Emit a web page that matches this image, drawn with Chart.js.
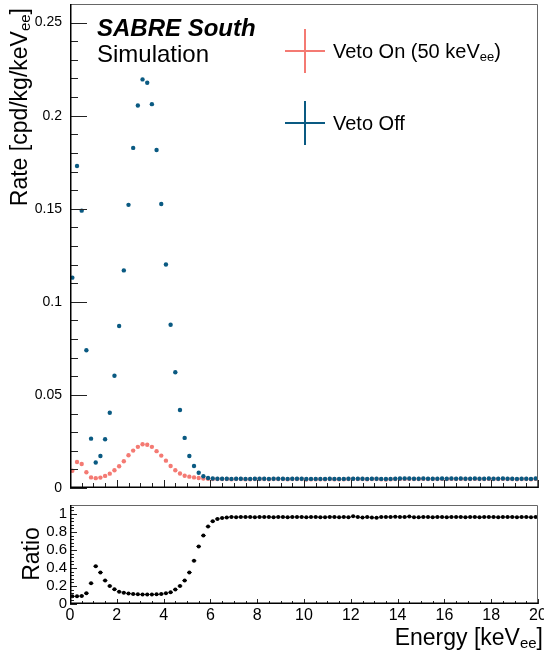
<!DOCTYPE html>
<html>
<head>
<meta charset="utf-8">
<script src="https://cdn.jsdelivr.net/npm/chart.js@4/dist/chart.umd.min.js"></script>
<style>
body{margin:0;background:#fff;}
#topBox{position:absolute;left:0;top:0;width:544px;height:495px;}
#botBox{position:absolute;left:0;top:495px;width:544px;height:160px;}
</style>
</head>
<body>
<div id="topBox"><canvas id="rateCanvas"></canvas></div>
<div id="botBox"><canvas id="ratioCanvas"></canvas></div>
<script>
// bin centres, keVee (0.2 keV bins)
var energy=[0.1,0.3,0.5,0.7,0.9,1.1,1.3,1.5,1.7,1.9,
	2.1,2.3,2.5,2.7,2.9,3.1,3.3,3.5,3.7,3.9,
	4.1,4.3,4.5,4.7,4.9,5.1,5.3,5.5,5.7,5.9,
	6.1,6.3,6.5,6.7,6.9,7.1,7.3,7.5,7.7,7.9,
	8.1,8.3,8.5,8.7,8.9,9.1,9.3,9.5,9.7,9.9,
	10.1,10.3,10.5,10.7,10.9,11.1,11.3,11.5,11.7,11.9,
	12.1,12.3,12.5,12.7,12.9,13.1,13.3,13.5,13.7,13.9,
	14.1,14.3,14.5,14.7,14.9,15.1,15.3,15.5,15.7,15.9,
	16.1,16.3,16.5,16.7,16.9,17.1,17.3,17.5,17.7,17.9,
	18.1,18.3,18.5,18.7,18.9,19.1,19.3,19.5,19.7,19.9];

// rate, cpd/kg/keVee
var vetoOff=[0.113,0.173,0.149,0.074,0.0265,0.0137,0.0172,0.0262,0.0404,0.0603,
	0.0870,0.1169,0.1521,0.1827,0.2055,0.2195,0.2177,0.2062,0.1816,0.1526,
	0.1201,0.0877,0.0622,0.0419,0.0269,0.0172,0.0118,0.0082,0.0063,0.0054,
	0.0051,0.0050,0.0050,0.0050,0.0049,0.0050,0.0050,0.0049,0.0049,0.0050,
	0.0050,0.0050,0.0049,0.0050,0.0050,0.0050,0.0049,0.0050,0.0050,0.0050,
	0.0048,0.0049,0.0049,0.0049,0.0049,0.0050,0.0049,0.0049,0.0049,0.0050,
	0.0050,0.0050,0.0050,0.0049,0.0050,0.0050,0.0049,0.0048,0.0049,0.0050,
	0.0051,0.0051,0.0051,0.0050,0.0050,0.0051,0.0050,0.0050,0.0050,0.0051,
	0.0050,0.0051,0.0050,0.0051,0.0050,0.0050,0.0051,0.0050,0.0050,0.0051,
	0.0050,0.0050,0.0051,0.0050,0.0050,0.0049,0.0050,0.0050,0.0049,0.0051];

var vetoOn=[0.0093,0.0140,0.0129,0.0085,0.0057,0.0053,0.0056,0.0065,0.0077,0.0095,
	0.0117,0.0144,0.0176,0.0201,0.0221,0.0235,0.0232,0.0221,0.0198,0.0174,
	0.0147,0.0118,0.0095,0.0078,0.0066,0.0061,0.0057,0.0054,0.0051,0.0050,
	0.0048,0.0048,0.0048,0.0048,0.0047,0.0048,0.0048,0.0047,0.0047,0.0048,
	0.0048,0.0048,0.0047,0.0048,0.0048,0.0048,0.0047,0.0048,0.0048,0.0048,
	0.0046,0.0047,0.0047,0.0047,0.0047,0.0048,0.0047,0.0047,0.0047,0.0048,
	0.0049,0.0048,0.0048,0.0047,0.0048,0.0048,0.0047,0.0046,0.0047,0.0048,
	0.0049,0.0049,0.0049,0.0048,0.0048,0.0049,0.0048,0.0048,0.0048,0.0049,
	0.0048,0.0049,0.0048,0.0049,0.0048,0.0048,0.0049,0.0048,0.0048,0.0049,
	0.0048,0.0048,0.0049,0.0048,0.0048,0.0047,0.0048,0.0048,0.0047,0.0049];

// veto on / veto off
var ratio=[0.085,0.085,0.09,0.12,0.23,0.42,0.35,0.26,0.20,0.163,
	0.137,0.125,0.116,0.11,0.107,0.106,0.106,0.106,0.107,0.11,
	0.12,0.13,0.16,0.20,0.26,0.35,0.48,0.64,0.76,0.86,
	0.92,0.945,0.955,0.962,0.968,0.965,0.968,0.966,0.967,0.964,
	0.967,0.966,0.968,0.965,0.967,0.966,0.964,0.967,0.966,0.968,
	0.963,0.966,0.967,0.965,0.964,0.968,0.966,0.963,0.967,0.965,
	0.975,0.966,0.961,0.967,0.960,0.958,0.966,0.968,0.967,0.970,
	0.968,0.966,0.972,0.965,0.963,0.967,0.966,0.965,0.967,0.966,
	0.965,0.967,0.966,0.968,0.965,0.966,0.967,0.965,0.966,0.967,
	0.966,0.965,0.967,0.966,0.968,0.965,0.966,0.967,0.963,0.968];

var ratioErr=[0.004,0.004,0.004,0.004,0.004,0.004,0.004,0.004,0.004,0.004,
	0.004,0.004,0.004,0.004,0.004,0.004,0.004,0.004,0.004,0.004,
	0.004,0.004,0.004,0.004,0.004,0.006,0.008,0.010,0.012,0.012,
	0.012,0.012,0.012,0.012,0.012,0.012,0.012,0.012,0.012,0.012,
	0.012,0.012,0.012,0.012,0.012,0.012,0.012,0.012,0.012,0.012,
	0.012,0.012,0.012,0.012,0.012,0.012,0.012,0.012,0.012,0.012,
	0.012,0.012,0.012,0.012,0.012,0.012,0.012,0.012,0.012,0.012,
	0.012,0.012,0.012,0.012,0.012,0.012,0.012,0.012,0.012,0.012,
	0.012,0.012,0.012,0.012,0.012,0.012,0.012,0.012,0.012,0.012,
	0.012,0.012,0.012,0.012,0.012,0.012,0.012,0.012,0.012,0.012];

var binHalf=0.1;
var rateTicks=[0,0.05,0.1,0.15,0.2,0.25];
var ratioTicks=[0,0.2,0.4,0.6,0.8,1];
var energyTicks=[0,2,4,6,8,10,12,14,16,18,20];

var blue='#0a5a82';
var red='#f47a73';
var fontName="'Liberation Sans', Arial, sans-serif";

Chart.defaults.font.family=fontName;
Chart.defaults.color='#000';

function points(ys){
	var out=[];
	for(var i=0; i<energy.length; i++){
		out.push({x:energy[i], y:ys[i]});
	}
	return out;
}

// text with subscript parts, returns total width
function richWidth(ctx, parts, size){
	var w=0;
	for(var i=0; i<parts.length; i++){
		ctx.font=(parts[i].sub ? Math.round(size*0.65) : size)+'px '+fontName;
		w+=ctx.measureText(parts[i].t).width;
	}
	return w;
}
function drawRich(ctx, parts, x, y, size){
	var cx=x;
	for(var i=0; i<parts.length; i++){
		var p=parts[i];
		ctx.font=(p.sub ? Math.round(size*0.65) : size)+'px '+fontName;
		ctx.fillText(p.t, cx, p.sub ? y+size*0.15 : y);
		cx+=ctx.measureText(p.t).width;
	}
}

// ROOT style ticks on the inside of the frame
function innerTicks(chart, cfg){
	var ctx=chart.ctx;
	var a=chart.chartArea;
	var xs=chart.scales.x, ys=chart.scales.y;
	ctx.save();
	ctx.strokeStyle='#222';
	ctx.lineWidth=1;
	ctx.beginPath();
	var v, px;
	for(v=0; v<=ys.max+1e-9; v+=cfg.yMinor){
		px=Math.round(ys.getPixelForValue(v))+0.5;
		var major=Math.abs(v/cfg.yMajor-Math.round(v/cfg.yMajor))<1e-6;
		ctx.moveTo(a.left, px);
		ctx.lineTo(a.left+(major ? cfg.yLenMajor : cfg.yLenMinor), px);
	}
	for(v=0; v<=xs.max+1e-9; v+=cfg.xMinor){
		px=Math.round(xs.getPixelForValue(v))+0.5;
		var majorX=Math.abs(v/cfg.xMajor-Math.round(v/cfg.xMajor))<1e-6;
		ctx.moveTo(px, a.bottom);
		ctx.lineTo(px, a.bottom-(majorX ? cfg.xLenMajor : cfg.xLenMinor));
	}
	ctx.stroke();
	// frame
	ctx.strokeStyle='#666';
	ctx.beginPath();
	ctx.moveTo(a.left, a.top+0.5);
	ctx.lineTo(a.right-0.5, a.top+0.5);
	ctx.lineTo(a.right-0.5, a.bottom);
	ctx.stroke();
	ctx.strokeStyle='#000';
	ctx.lineWidth=1.5;
	ctx.beginPath();
	ctx.moveTo(a.left+0.75, a.top);
	ctx.lineTo(a.left+0.75, a.bottom-0.75);
	ctx.lineTo(a.right, a.bottom-0.75);
	ctx.stroke();
	ctx.restore();
}

var ratePlugin={
	id:'ratePlugin',
	afterDraw:function(chart){
		var ctx=chart.ctx;
		innerTicks(chart, {yMajor:0.05, yMinor:0.01, yLenMajor:17, yLenMinor:8,
			xMajor:2, xMinor:0.5, xLenMajor:8, xLenMinor:5});
		ctx.save();
		ctx.fillStyle='#000';
		ctx.textBaseline='alphabetic';
		ctx.textAlign='left';
		ctx.font='italic bold 24px '+fontName;
		ctx.fillText('SABRE South', 97, 36);
		ctx.font='24px '+fontName;
		ctx.fillText('Simulation', 97, 62);

		// legend
		var rows=[
			{c:red, y:51, parts:[{t:'Veto On (50 keV'},{t:'ee', sub:true},{t:')'}]},
			{c:blue, y:123, parts:[{t:'Veto Off'}]}
		];
		for(var i=0; i<rows.length; i++){
			var r=rows[i];
			ctx.strokeStyle=r.c;
			ctx.lineWidth=2;
			ctx.beginPath();
			ctx.moveTo(285, r.y);
			ctx.lineTo(325, r.y);
			ctx.moveTo(305, r.y-22);
			ctx.lineTo(305, r.y+22);
			ctx.stroke();
			drawRich(ctx, r.parts, 333, r.y+7, 20);
		}

		// y title, rotated, right aligned at the top
		var title=[{t:'Rate [cpd/kg/keV'},{t:'ee', sub:true},{t:']'}];
		var w=richWidth(ctx, title, 23);
		ctx.translate(27, 0);
		ctx.rotate(-Math.PI/2);
		drawRich(ctx, title, -8-w, 0, 23);
		ctx.restore();
	}
};

var ratioPlugin={
	id:'ratioPlugin',
	beforeDatasetsDraw:function(chart){
		var ctx=chart.ctx;
		var xs=chart.scales.x, ys=chart.scales.y;
		ctx.save();
		ctx.strokeStyle='#000';
		ctx.lineWidth=1;
		ctx.beginPath();
		for(var i=0; i<energy.length; i++){
			var px=xs.getPixelForValue(energy[i]);
			var py=ys.getPixelForValue(ratio[i]);
			ctx.moveTo(xs.getPixelForValue(energy[i]-binHalf), py);
			ctx.lineTo(xs.getPixelForValue(energy[i]+binHalf), py);
			ctx.moveTo(px, ys.getPixelForValue(ratio[i]-ratioErr[i]));
			ctx.lineTo(px, ys.getPixelForValue(ratio[i]+ratioErr[i]));
		}
		ctx.stroke();
		ctx.restore();
	},
	afterDraw:function(chart){
		var ctx=chart.ctx;
		innerTicks(chart, {yMajor:0.2, yMinor:0.04, yLenMajor:7, yLenMinor:4,
			xMajor:2, xMinor:0.5, xLenMajor:5, xLenMinor:3});
		ctx.save();
		ctx.fillStyle='#000';
		ctx.textBaseline='alphabetic';
		// x title, right aligned
		var title=[{t:'Energy [keV'},{t:'ee', sub:true},{t:']'}];
		var w=richWidth(ctx, title, 23);
		drawRich(ctx, title, 543-w, 150, 23);
		// y title
		ctx.font='23px '+fontName;
		ctx.textAlign='center';
		ctx.translate(39, 59);
		ctx.rotate(-Math.PI/2);
		ctx.fillText('Ratio', 0, 0);
		ctx.restore();
	}
};

function noPad(s){
	s.paddingTop=0;
	s.paddingBottom=0;
	s.paddingLeft=0;
	s.paddingRight=0;
}

var rateChart=new Chart(document.getElementById('rateCanvas'), {
	type:'scatter',
	data:{
		datasets:[{
			label:'Veto Off',
			data:points(vetoOff),
			backgroundColor:blue,
			pointRadius:2.2,
			pointBorderWidth:0,
			order:0
		},{
			label:'Veto On (50 keVee)',
			data:points(vetoOn),
			backgroundColor:red,
			pointRadius:2.2,
			pointBorderWidth:0,
			order:1
		}]
	},
	options:{
		responsive:true,
		maintainAspectRatio:false,
		animation:false,
		events:[],
		layout:{padding:{left:0, right:6, top:4, bottom:7}},
		plugins:{legend:{display:false}, tooltip:{enabled:false}},
		scales:{
			x:{
				type:'linear', min:0, max:20, display:false
			},
			y:{
				type:'linear', min:0, max:0.26,
				grid:{display:false, drawTicks:false},
				border:{display:false},
				afterBuildTicks:function(s){
					s.ticks=rateTicks.map(function(v){return {value:v};});
				},
				afterFit:function(s){ s.width=70; noPad(s); },
				ticks:{
					padding:8,
					autoSkip:false,
					font:{size:14},
					callback:function(v){ return String(v); }
				}
			}
		}
	},
	plugins:[ratePlugin]
});

var ratioChart=new Chart(document.getElementById('ratioCanvas'), {
	type:'scatter',
	data:{
		datasets:[{
			label:'Ratio',
			data:points(ratio),
			backgroundColor:'#000',
			pointRadius:2,
			pointBorderWidth:0
		}]
	},
	options:{
		responsive:true,
		maintainAspectRatio:false,
		animation:false,
		events:[],
		layout:{padding:{left:0, right:6, top:10, bottom:0}},
		plugins:{legend:{display:false}, tooltip:{enabled:false}},
		scales:{
			x:{
				type:'linear', min:0, max:20,
				grid:{display:false, drawTicks:false},
				border:{display:false},
				afterBuildTicks:function(s){
					s.ticks=energyTicks.map(function(v){return {value:v};});
				},
				afterFit:function(s){ s.height=51; noPad(s); },
				ticks:{
					padding:2,
					maxRotation:0,
					autoSkip:false,
					font:{size:16},
					callback:function(v){ return String(v); }
				}
			},
			y:{
				type:'linear', min:0, max:1.1,
				grid:{display:false, drawTicks:false},
				border:{display:false},
				afterBuildTicks:function(s){
					s.ticks=ratioTicks.map(function(v){return {value:v};});
				},
				afterFit:function(s){ s.width=70; noPad(s); },
				ticks:{
					padding:3,
					autoSkip:false,
					font:{size:15},
					callback:function(v){ return String(v); }
				}
			}
		}
	},
	plugins:[ratioPlugin]
});
</script>
</body>
</html>
